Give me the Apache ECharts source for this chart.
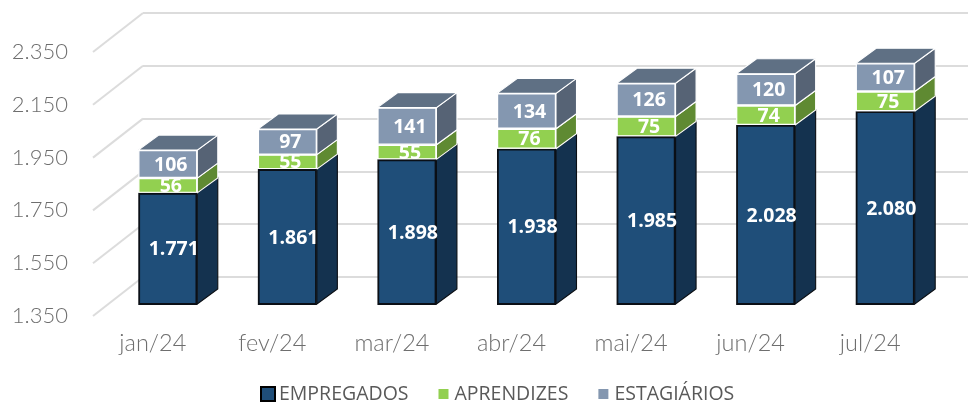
<!DOCTYPE html>
<html><head><meta charset="utf-8">
<style>html,body{margin:0;padding:0;background:#fff}#c{width:968px;height:403px}</style>
<script src="https://cdn.jsdelivr.net/npm/echarts@6/dist/echarts.min.js"></script>
</head><body><div id="c"></div>
<script>
const categories = ['jan/24','fev/24','mar/24','abr/24','mai/24','jun/24','jul/24'];
const empregados = [1771,1861,1898,1938,1985,2028,2080];
const aprendizes = [56,55,55,76,75,74,75];
const estagiarios = [106,97,141,134,126,120,107];
const yTicks = [1350,1550,1750,1950,2150,2350];

const fmt = v => String(v).replace(/\B(?=(\d{3})+$)/g,'.');
const BAR_DX = 20.5, BAR_DY = -15, FLOOR_DX = 50, FLOOR_DY = -39, BAR_W = 59;
const GRID_BARS = 0, GRID_WALL = 1, GRID_FRONT = 2;

const lo1 = empregados.map(()=>1350);
const hi1 = empregados.slice();
const hi2 = hi1.map((v,i)=>v+aprendizes[i]);
const hi3 = hi2.map((v,i)=>v+estagiarios[i]);

function depth(name, lows, highs, sideColor, stroke, topColor){
  return {
    type:'custom', name, xAxisIndex:GRID_BARS, yAxisIndex:GRID_BARS, silent:true,
    data: categories.map((c,i)=>[i,lows[i],highs[i]]),
    encode:{x:0,y:[1,2]},
    renderItem(params,api){
      const a = api.coord([api.value(0),api.value(1)]);
      const b = api.coord([api.value(0),api.value(2)]);
      const xr = a[0]+BAR_W/2, xl = a[0]-BAR_W/2;
      const children = [{type:'polygon',shape:{points:[[xr,a[1]],[xr+BAR_DX,a[1]+BAR_DY],[xr+BAR_DX,b[1]+BAR_DY],[xr,b[1]]]},
        style:{fill:sideColor,stroke,lineWidth:1.1}}];
      if(topColor) children.push({type:'polygon',shape:{points:[[xl,b[1]],[xl+BAR_DX,b[1]+BAR_DY],[xr+BAR_DX,b[1]+BAR_DY],[xr,b[1]]]},
        style:{fill:topColor,stroke,lineWidth:1.1}});
      return {type:'group',children};
    }
  };
}
function bar(name,data,color,stroke,borderWidth,labelOffset){
  return {
    type:'bar', name, data, stack:'t', xAxisIndex:GRID_BARS, yAxisIndex:GRID_BARS, barWidth:BAR_W,
    itemStyle:{color,borderColor:stroke,borderWidth},
    label:{show:true,position:'inside',offset:labelOffset,color:'#fff',fontFamily:'Open Sans',fontWeight:'bold',fontSize:19.5,
      formatter:p=>fmt(p.value)}
  };
}
const txt = {color:'#6e6e6e',fontFamily:'Lato',fontWeight:300,fontSize:22};
const hiddenX = i=>({type:'category',gridIndex:i,data:categories,show:false});
const chart = echarts.init(document.getElementById('c'),null,{renderer:'canvas'});
chart.setOption({
  animation:false,
  backgroundColor:'#fff',
  legend:{
    data:[{name:'EMPREGADOS',itemStyle:{borderColor:'#000',borderWidth:2}},
      {name:'APRENDIZES',itemStyle:{borderColor:'#fff',borderWidth:4}},
      {name:'ESTAGIÁRIOS',itemStyle:{borderColor:'#fff',borderWidth:4}}],
    left:255,top:379,itemWidth:14,itemHeight:14,itemGap:26,
    textStyle:{color:'#595959',fontFamily:'Open Sans',fontSize:19.5,padding:[0,0,0,-1]},icon:'rect',selectedMode:false
  },
  grid:[
    {left:108,width:837,top:40,height:264},
    {left:143,width:837,top:13,height:264},
    {left:93,width:837,top:52,height:264}
  ],
  xAxis:[hiddenX(0),hiddenX(1),{type:'category',gridIndex:2,data:categories,axisLine:{show:false},axisTick:{show:false},
    axisLabel:{...txt,fontSize:23.5,margin:15}}],
  yAxis:[
    {type:'value',gridIndex:0,min:1350,max:2350,interval:200,show:false,splitLine:{show:false}},
    {type:'value',gridIndex:1,min:1350,max:2350,interval:200,axisLine:{show:false},axisTick:{show:false},axisLabel:{show:false},
      splitLine:{show:true,lineStyle:{color:'#dcdcdc',width:2}}},
    {type:'value',gridIndex:2,min:1350,max:2350,interval:200,axisLine:{show:false},axisTick:{show:false},splitLine:{show:false},
      axisLabel:{...txt,margin:25,formatter:v=>fmt(v)}}
  ],
  series:[
    {type:'custom',name:'floor',xAxisIndex:GRID_FRONT,yAxisIndex:GRID_FRONT,silent:true,
      data:yTicks.map(v=>[0,v]),
      renderItem(params,api){
        const p = api.coord([0,api.value(1)]);
        const x = p[0]-api.size([1,0])[0]/2;
        return {type:'line',shape:{x1:x,y1:p[1],x2:x+FLOOR_DX,y2:p[1]+FLOOR_DY},style:{stroke:'#dcdcdc',lineWidth:2}};
      }},
    depth('d1',lo1,hi1,'#14324f','#0b0f14'),
    depth('d2',hi1,hi2,'#5f8a32','#ffffff'),
    depth('d3',hi2,hi3,'#566375','#ffffff','#5f7084'),
    bar('EMPREGADOS',empregados,'#1f4e79','#0a0f16',1.8,[6,1]),
    bar('APRENDIZES',aprendizes,'#92d050','#ffffff',1.2,[3,1]),
    bar('ESTAGIÁRIOS',estagiarios,'#8497b0','#ffffff',1.2,[3,1])
  ]
});
</script></body></html>
